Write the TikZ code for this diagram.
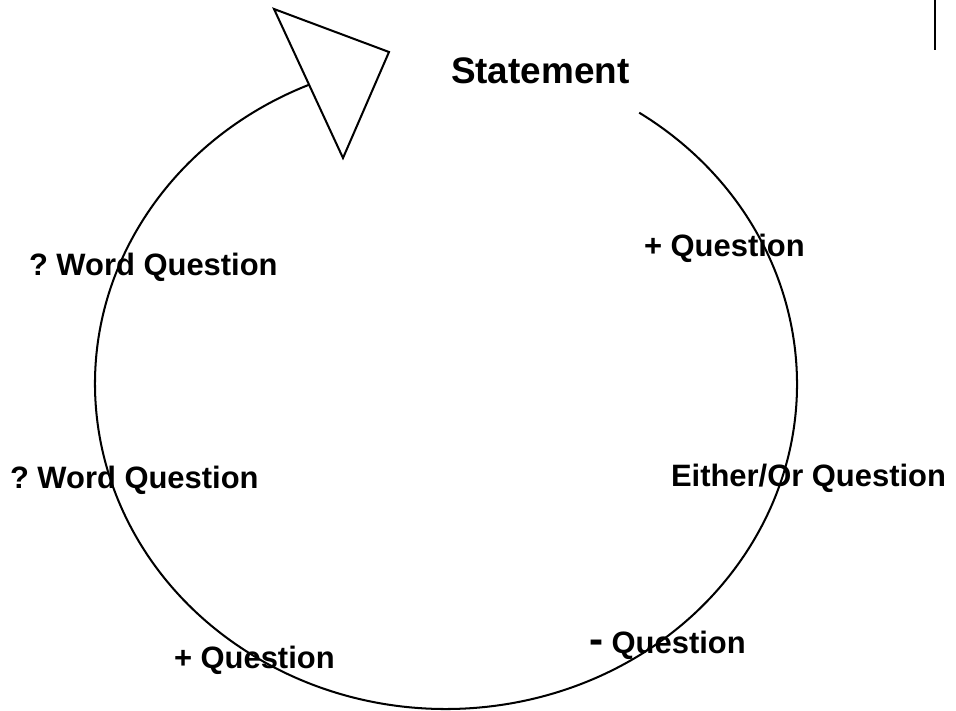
\documentclass[tikz,border=0pt]{standalone}
\usepackage{fontspec}
\setmainfont{Liberation Sans}
\frenchspacing
\tikzstyle{every path}=[line width=1.15pt]
\tikzstyle{qtext} = [anchor=base west, inner sep=0pt, font=\fontsize{17.6}{20}\selectfont\bfseries]
\tikzstyle{headtext} = [qtext, font=\fontsize{21}{24}\selectfont\bfseries]

\begin{document}
\begin{tikzpicture}
            \useasboundingbox (0, 0) rectangle (19.12, 14.2);

            % the cycle, ending in an open arrow head
            \coordinate (centre) at (8.92, 6.52);
            \draw (centre) ++(56.6:7.02 and 6.5)
                arc[start angle=56.6, end angle=-247, x radius=7.02, y radius=6.5];
            \coordinate (tipa) at (5.48, 14.02);
            \coordinate (tipb) at (7.78, 13.16);
            \coordinate (tipc) at (6.86, 11.04);
            \draw (tipa) -- (tipb) -- (tipc) -- cycle;

            \coordinate (bartop) at (18.7, 14.2);
            \coordinate (barfoot) at (18.7, 13.2);
            \draw (bartop) -- (barfoot);

            \node[headtext] (statement) at (9.0, 12.52) {Statement};
            \node[qtext] (plusa) at (12.86, 9.06) {+ Question};
            \node[qtext] (worda) at (0.56, 8.68) {? Word Question};
            \node[qtext] (either) at (13.4, 4.48) {Either/Or Question};
            \node[qtext] (wordb) at (0.18, 4.44) {? Word Question};
            \node[qtext] (minus) at (11.76, 1.14)
                {{\fontsize{24}{24}\selectfont -} Question};
            \node[qtext] (plusb) at (3.46, 0.84) {+ Question};
        \end{tikzpicture}
\end{document}
